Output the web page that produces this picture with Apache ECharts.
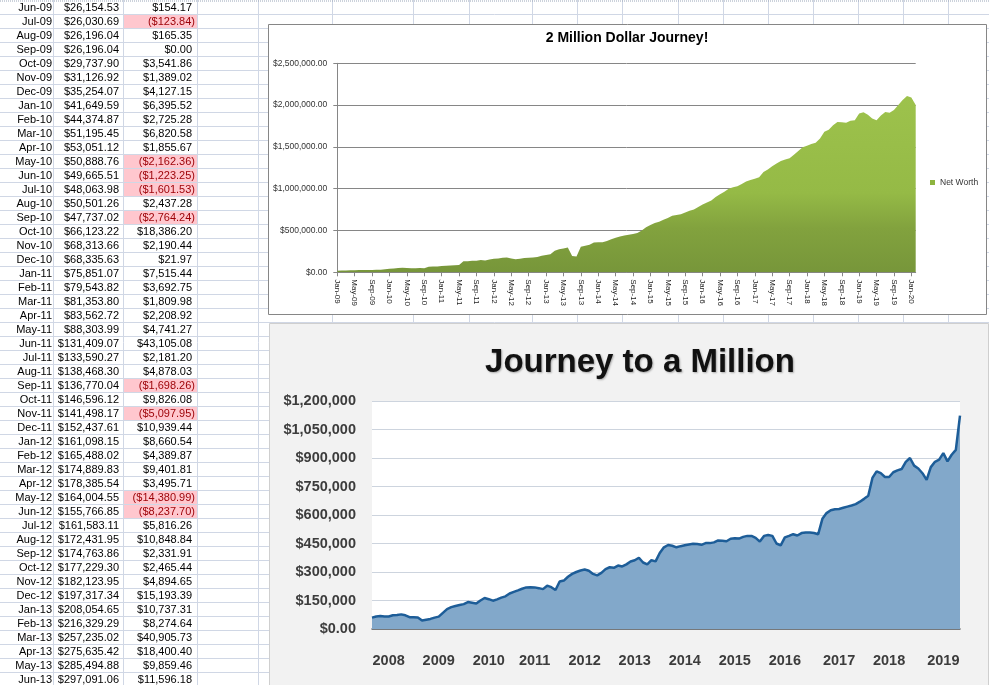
<!DOCTYPE html>
<html><head><meta charset="utf-8">
<script src="https://cdn.jsdelivr.net/npm/echarts/dist/echarts.min.js"></script>
<style>html,body{margin:0;padding:0;background:#fff;}#c{width:989px;height:685px;}</style>
</head><body><div id="c"></div>
<script>
// ---------- spreadsheet data ----------
const tableDates = ['Jun-09','Jul-09','Aug-09','Sep-09','Oct-09','Nov-09','Dec-09',
  'Jan-10','Feb-10','Mar-10','Apr-10','May-10','Jun-10','Jul-10','Aug-10','Sep-10','Oct-10','Nov-10','Dec-10',
  'Jan-11','Feb-11','Mar-11','Apr-11','May-11','Jun-11','Jul-11','Aug-11','Sep-11','Oct-11','Nov-11','Dec-11',
  'Jan-12','Feb-12','Mar-12','Apr-12','May-12','Jun-12','Jul-12','Aug-12','Sep-12','Oct-12','Nov-12','Dec-12',
  'Jan-13','Feb-13','Mar-13','Apr-13','May-13','Jun-13'];
const tableValues = [26154.53,26030.69,26196.04,26196.04,29737.90,31126.92,35254.07,
  41649.59,44374.87,51195.45,53051.12,50888.76,49665.51,48063.98,50501.26,47737.02,66123.22,68313.66,68335.63,
  75851.07,79543.82,81353.80,83562.72,88303.99,131409.07,133590.27,138468.30,136770.04,146596.12,141498.17,152437.61,
  161098.15,165488.02,174889.83,178385.54,164004.55,155766.85,161583.11,172431.95,174763.86,177229.30,182123.95,197317.34,
  208054.65,216329.29,257235.02,275635.42,285494.88,297091.06];
const tableChanges = [154.17,-123.84,165.35,0.00,3541.86,1389.02,4127.15,
  6395.52,2725.28,6820.58,1855.67,-2162.36,-1223.25,-1601.53,2437.28,-2764.24,18386.20,2190.44,21.97,
  7515.44,3692.75,1809.98,2208.92,4741.27,43105.08,2181.20,4878.03,-1698.26,9826.08,-5097.95,10939.44,
  8660.54,4389.87,9401.81,3495.71,-14380.99,-8237.70,5816.26,10848.84,2331.91,2465.44,4894.65,15193.39,
  10737.31,8274.64,40905.73,18400.40,9859.46,11596.18];

// ---------- "2 Million Dollar Journey!" (monthly, Jan-09 .. Feb-20) ----------
const greenEarly = [20000,21000,22500,24000,26000]; // Jan-09..May-09
const greenLate = [195000,190000,305000,318000,331000,355000,358000,360000,375000,396000,
  412000,429000,440000,449000,458000,470000,500000,540000,567000,590000,
  605000,628000,650000,677000,685000,693000,715000,735000,750000,780000,
  811000,835000,860000,900000,935000,965000,1000000,1018000,1030000,1055000,
  1085000,1104000,1120000,1136000,1200000,1230000,1270000,1300000,1330000,1350000,
  1364000,1405000,1450000,1495000,1515000,1535000,1550000,1600000,1680000,1705000,
  1760000,1798000,1795000,1790000,1813000,1820000,1900000,1915000,1885000,1840000,
  1820000,1875000,1917000,1909000,1940000,2000000,2060000,2110000,2090000,2000000]; // Jul-13..Feb-20
const greenYLabels = ['$0.00','$500,000.00','$1,000,000.00','$1,500,000.00','$2,000,000.00','$2,500,000.00'];

// ---------- "Journey to a Million" (monthly) ----------
const blueValues = [60000,66000,68000,66000,66000,72000,74000,77000,72000,62000,
  62000,61000,45000,49000,53000,60000,65000,85000,105000,115000,
  121000,126000,131000,142000,138000,134000,150000,163000,157000,149000,
  156000,165000,172000,187000,195000,203000,212000,219000,220000,219000,
  215000,210000,228000,220000,205000,250000,255000,275000,290000,300000,
  308000,313000,307000,290000,282000,295000,315000,325000,322000,334000,
  329000,340000,355000,362000,375000,350000,340000,362000,356000,400000,
  430000,442000,438000,430000,436000,441000,445000,449000,447000,443000,
  452000,452000,456000,466000,464000,462000,475000,478000,476000,485000,
  490000,490000,480000,460000,490000,495000,490000,450000,440000,482000,
  490000,499000,492000,505000,508000,508000,505000,499000,580000,610000,
  625000,630000,632000,638000,644000,650000,657000,670000,685000,701000,
  795000,830000,820000,800000,800000,825000,835000,842000,880000,900000,
  860000,845000,820000,785000,852000,880000,891000,926000,882000,917000,
  943000,1123000];
const blueYears = ['2008','2009','2010','2011','2012','2013','2014','2015','2016','2017','2018','2019'];
const blueYearIdx = [4,16,28,39,51,63,75,87,99,112,124,137];
const blueYLabels = ['$0.00','$150,000','$300,000','$450,000','$600,000','$750,000','$900,000','$1,050,000','$1,200,000'];

// ---------- derived ----------
const greenValues = greenEarly.concat(tableValues, greenLate);
const monthNames = ['Jan','Feb','Mar','Apr','May','Jun','Jul','Aug','Sep','Oct','Nov','Dec'];
const greenCategories = greenValues.map((_, i) => monthNames[i % 12] + '-' + String(9 + Math.floor(i / 12)).padStart(2, '0'));
const blueCategories = blueValues.map((_, i) => String(i));

function money(n) {
  const s = Math.abs(n).toLocaleString('en-US', {minimumFractionDigits: 2, maximumFractionDigits: 2});
  return n < 0 ? '($' + s + ')' : '$' + s;
}

// ---------- spreadsheet drawing ----------
const ROW = 14;
const FONT = '11px "Liberation Sans", Arial, sans-serif';
const gridColor = '#d0d7e5';
const g = [];
for (let k = 1; k * ROW < 685; k++) {
  g.push({type: 'line', z: -20, silent: true, shape: {x1: 0, y1: k * ROW + 0.5, x2: 989, y2: k * ROW + 0.5}, style: {stroke: gridColor, lineWidth: 1}});
}
[53, 123, 197, 258, 332, 413, 469, 532, 577, 622, 678, 723, 768, 813, 858, 903, 948].forEach(x => {
  g.push({type: 'line', z: -20, silent: true, shape: {x1: x + 0.5, y1: 0, x2: x + 0.5, y2: 685}, style: {stroke: gridColor, lineWidth: 1}});
});
g.push({type: 'line', z: -19, silent: true, shape: {x1: 0, y1: 1, x2: 989, y2: 1}, style: {stroke: '#9aa6b8', lineWidth: 1, lineDash: [1, 1]}});
tableDates.forEach((d, r) => {
  const cy = r * ROW + 7.5;
  const neg = tableChanges[r] < 0;
  if (neg) {
    g.push({type: 'rect', z: -18, silent: true, shape: {x: 124, y: r * ROW + 1, width: 73, height: ROW - 1}, style: {fill: '#ffc7ce'}});
  }
  const t = (txt, x, col) => g.push({type: 'text', z: -17, silent: true,
    style: {text: txt, x: x, y: cy, align: 'right', verticalAlign: 'middle', textAlign: 'right', textVerticalAlign: 'middle', font: FONT, fill: col}});
  t(d, 52, '#000');
  t(money(tableValues[r]), 119, '#000');
  t(money(tableChanges[r]), neg ? 195 : 192, neg ? '#9c0006' : '#000');
});
// chart frames
g.push({type: 'rect', z: -15, silent: true, shape: {x: 268.5, y: 24.5, width: 718, height: 290}, style: {fill: '#fff', stroke: '#868686', lineWidth: 1}});
g.push({type: 'rect', z: -15, silent: true, shape: {x: 269.5, y: 323.5, width: 719, height: 370}, style: {fill: '#f2f2f2', stroke: '#cfcfcf', lineWidth: 1}});

const chart = echarts.init(document.getElementById('c'));
chart.setOption({
  animation: false,
  graphic: {elements: g},
  title: [
    {text: '2 Million Dollar Journey!', left: 627, top: 31, textAlign: 'center', padding: 0,
     textStyle: {fontFamily: 'Liberation Sans', fontWeight: 'bold', fontSize: 14, color: '#000'}},
    {text: 'Journey to a Million', left: 640, top: 346, textAlign: 'center', padding: 0,
     textStyle: {fontFamily: 'Liberation Sans', fontWeight: 'bold', fontSize: 33, color: '#111',
       textShadowColor: 'rgba(0,0,0,0.3)', textShadowBlur: 2, textShadowOffsetX: 1, textShadowOffsetY: 1}}
  ],
  legend: {data: ['Net Worth'], left: 925, top: 173, icon: 'rect', itemWidth: 5, itemHeight: 5, padding: 5,
    textStyle: {fontSize: 8.5, color: '#333', fontFamily: 'Liberation Sans'}},
  grid: [
    {left: 337.3, top: 63.3, width: 578.4, height: 209, outerBoundsMode: 'none', containLabel: false},
    {left: 372, top: 401, width: 588, height: 228, show: true, backgroundColor: '#fff', borderWidth: 0, outerBoundsMode: 'none', containLabel: false}
  ],
  xAxis: [
    {gridIndex: 0, type: 'category', data: greenCategories, boundaryGap: false,
     axisLine: {show: true, lineStyle: {color: '#868686', width: 1}},
     axisTick: {show: true, interval: 3, length: 4, lineStyle: {color: '#868686'}},
     axisLabel: {interval: 3, rotate: -90, margin: 7, fontSize: 8, color: '#222', fontFamily: 'Liberation Sans', hideOverlap: false},
     splitLine: {show: false}},
    {gridIndex: 1, type: 'category', data: blueCategories, boundaryGap: false,
     axisLine: {show: true, lineStyle: {color: '#5a5a5a', width: 1.5}},
     axisTick: {show: false},
     axisLabel: {interval: (i) => blueYearIdx.includes(i),
       formatter: (v, i) => { const k = blueYearIdx.indexOf(i); return k >= 0 ? blueYears[k] : ''; },
       margin: 24, fontSize: 14.5, fontWeight: 'bold', color: '#3c3c3c', fontFamily: 'Liberation Sans', hideOverlap: false},
     splitLine: {show: false}}
  ],
  yAxis: [
    {gridIndex: 0, type: 'value', min: 0, max: 2500000, interval: 500000,
     axisLine: {show: true, lineStyle: {color: '#868686', width: 1}},
     axisTick: {show: true, length: 4, lineStyle: {color: '#868686'}},
     axisLabel: {margin: 10, fontSize: 8.5, color: '#333', fontFamily: 'Liberation Sans',
       formatter: v => greenYLabels[Math.round(v / 500000)]},
     splitLine: {show: true, lineStyle: {color: '#868686', width: 1}}},
    {gridIndex: 1, type: 'value', min: 0, max: 1200000, interval: 150000,
     axisLine: {show: false}, axisTick: {show: false},
     axisLabel: {margin: 16, fontSize: 14.5, fontWeight: 'bold', color: '#3c3c3c', fontFamily: 'Liberation Sans',
       formatter: v => blueYLabels[Math.round(v / 150000)]},
     splitLine: {show: true, lineStyle: {color: '#cdd4de', width: 1}}}
  ],
  series: [
    {type: 'line', name: 'Net Worth', xAxisIndex: 0, yAxisIndex: 0, data: greenValues, symbol: 'none',
     lineStyle: {width: 0}, itemStyle: {color: '#8db43f'},
     areaStyle: {opacity: 1, color: new echarts.graphic.LinearGradient(0, 0, 0, 1, [
       {offset: 0, color: '#9dc24c'}, {offset: 0.55, color: '#95ba46'}, {offset: 0.75, color: '#82a23e'}, {offset: 1, color: '#77963a'}])}},
    {type: 'line', name: 'Journey', xAxisIndex: 1, yAxisIndex: 1, data: blueValues, symbol: 'none',
     lineStyle: {width: 2.5, color: '#1d5d98'}, itemStyle: {color: '#1d5d98'},
     areaStyle: {opacity: 1, color: '#82a8ca'}}
  ]
});
</script>
</body></html>
